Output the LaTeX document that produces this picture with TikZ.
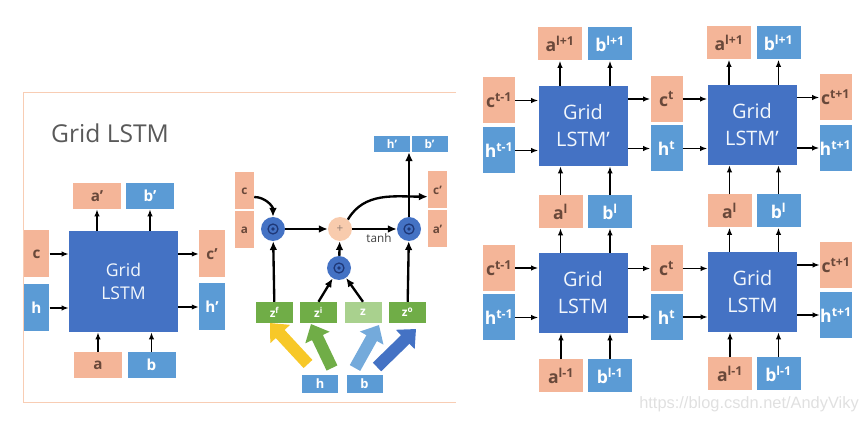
\documentclass[tikz,border=0pt]{standalone}
\usepackage{fontspec}
\setmainfont{Open Sans}
\newfontfamily\wmfont{Liberation Sans}
\usetikzlibrary{arrows.meta,positioning,calc}
\definecolor{orng}{RGB}{244,181,152}
\definecolor{lblue}{RGB}{91,155,213}
\definecolor{sqblue}{RGB}{68,114,196}
\definecolor{navy}{RGB}{31,56,120}
\definecolor{brwn}{RGB}{105,72,58}
\definecolor{zgrn}{RGB}{112,173,71}
\definecolor{zlgrn}{RGB}{169,209,142}
\definecolor{yel}{RGB}{247,200,40}
\definecolor{frame}{RGB}{248,205,180}
\definecolor{pls}{RGB}{248,203,173}
\tikzset{
    inbox/.style={
        rectangle,
        inner sep=0pt,
        font=\bfseries,
    },
    ora/.style={
        inbox,
        fill=orng,
        text=brwn,
    },
    blu/.style={
        inbox,
        fill=lblue,
        text=white,
    },
    cell/.style={
        rectangle,
        fill=sqblue,
        text=white!92!lblue,
        align=center,
    },
    lsq/.style={
        cell,
        minimum width=32.7mm,
        minimum height=30.3mm,
        font=\fontsize{15}{20}\selectfont,
    },
    rsq/.style={
        cell,
        minimum width=26.7mm,
        minimum height=24mm,
        font=\fontsize{17}{23}\selectfont,
    },
    lab/.style={
        minimum width=14.4mm,
        minimum height=7.8mm,
        font=\fontsize{13}{15}\selectfont\bfseries,
    },
    lch/.style={
        minimum width=7.7mm,
        minimum height=14.1mm,
        font=\fontsize{13}{15}\selectfont\bfseries,
    },
    rab/.style={
        minimum width=13.2mm,
        minimum height=9.9mm,
        font=\fontsize{15}{18}\selectfont\bfseries,
    },
    rch/.style={
        minimum width=9.6mm,
        minimum height=13.8mm,
        font=\fontsize{15}{18}\selectfont\bfseries,
    },
    mch/.style={
        minimum width=5.7mm,
        minimum height=11.1mm,
        font=\fontsize{10}{12}\selectfont\bfseries,
    },
    mhb/.style={
        minimum width=10.8mm,
        minimum height=4.8mm,
        font=\fontsize{10}{12}\selectfont\bfseries,
    },
    mhb2/.style={
        minimum width=10.8mm,
        minimum height=5.4mm,
        font=\fontsize{11}{12}\selectfont\bfseries,
    },
    zbox/.style={
        inbox,
        text=white,
        minimum width=11.1mm,
        minimum height=6.3mm,
        font=\fontsize{10}{12}\selectfont\bfseries,
    },
    gate/.style={
        circle,
        fill=sqblue,
        minimum size=7.2mm,
        inner sep=0pt,
        path picture={
            \draw[navy, line width=1.1pt] (path picture bounding box.center) circle (1.5mm);
            \fill[navy] (path picture bounding box.center) circle (0.55mm);
        },
    },
    plus/.style={
        circle,
        fill=pls,
        text=brwn!70,
        minimum size=7.2mm,
        inner sep=0pt,
        font=\fontsize{10}{10}\selectfont,
    },
    arr/.style={
        -{Latex[length=6pt,width=4.5pt]},
        line width=1.5pt,
    },
    marr/.style={
        -{Latex[length=7.5pt,width=6.5pt]},
        line width=2pt,
    },
    fat/.style={
        line width=3.6mm,
        -{Triangle[length=4.5mm,width=7.8mm]},
    },
    frm/.style={
        draw=frame,
        line width=0.8pt,
    },
}

\begin{document}
\begin{tikzpicture}[x=0.3mm,y=-0.3mm]
    \useasboundingbox (0,0) rectangle (865,421);

    % left panel: one Grid LSTM block
    \draw[frm] (456,92) -- (23,92) -- (23,402) -- (456,402);
    \node[anchor=west, text=black!65, font=\fontsize{21}{25}\selectfont] (title) at (47,133) {Grid LSTM};

    \node[lsq] (sq) at (123.5,281.5) {Grid\\LSTM};
    \node[ora, lab] (ao) at (97,196) {a’};
    \node[blu, lab] (bo) at (150,196) {b’};
    \node[ora, lch] (ci) at (36.5,254) {c};
    \node[blu, lch] (hi) at (36.5,308) {h};
    \node[ora, lch] (co) at (212,254) {c’};
    \node[blu, lch] (ho) at (212,307) {h’};
    \node[ora, lab] (ai) at (98,365) {a};
    \node[blu, lab] (bi) at (151.5,365) {b};

    \draw[arr] (ci) -- (ci -| sq.west);
    \draw[arr] (hi) -- (hi -| sq.west);
    \draw[arr] (sq.east |- co) -- (co);
    \draw[arr] (sq.east |- ho) -- (ho);
    \draw[arr] (ao |- sq.north) -- (ao);
    \draw[arr] (bo |- sq.north) -- (bo);
    \draw[arr] (ai) -- (ai |- sq.south);
    \draw[arr] (bi) -- (bi |- sq.south);

    % middle: inside the block
    \node[ora, mch] (mc) at (244.5,191) {c};
    \node[ora, mch] (ma) at (244.5,230) {a};
    \node[ora, mch] (mco) at (437.5,190) {c’};
    \node[ora, mch] (mao) at (437.5,229) {a’};
    \node[blu, mhb] (mho) at (392,144) {h’};
    \node[blu, mhb] (mbo) at (429.5,144) {b’};
    \node[gate] (gf) at (273,229) {};
    \node[plus] (sum) at (340,229) {+};
    \node[gate] (go) at (409,229) {};
    \node[gate] (gi) at (339,268) {};
    \node[zbox, fill=zgrn] (zf) at (274.5,312.5) {z\textsuperscript{f}};
    \node[zbox, fill=zgrn] (zi) at (318.5,312.5) {z\textsuperscript{i}};
    \node[zbox, fill=zlgrn] (zz) at (363,312.5) {z};
    \node[zbox, fill=zgrn] (zo) at (407.5,312.5) {z\textsuperscript{o}};
    \node[blu, mhb2] (mh) at (320,384) {h};
    \node[blu, mhb2] (mb) at (364.5,384) {b};

    \coordinate (yt) at (308,364);
    \coordinate (yh) at (270,323);
    \coordinate (gt) at (332,368);
    \coordinate (gh) at (311,324);
    \coordinate (lt) at (355,368);
    \coordinate (lh) at (379,325);
    \coordinate (dt) at (377,367);
    \coordinate (dh) at (416,329);
    \draw[fat, yel] (yt) -- (yh);
    \draw[fat, zgrn] (gt) -- (gh);
    \draw[fat, lblue!85] (lt) -- (lh);
    \draw[fat, sqblue] (dt) -- (dh);

    \draw[marr] ([yshift=-1.8mm]mc.east) to[out=0,in=90] (gf);
    \draw[marr] (gf) -- (sum);
    \draw[marr] (sum) -- node[below, pos=0.6, font=\fontsize{10}{12}\selectfont, text=black!75] (th) {tanh} (go);
    \draw[marr] (gi) -- (sum);
    \draw[marr] (zf) -- (gf);
    \draw[marr] (zi.north) -- (gi);
    \draw[marr] (zz.north) -- (gi);
    \draw[marr] (zo) -- (go);
    \draw[marr] (go) -- (go |- mho.south);
    \draw[marr] (sum.50) to[out=60,in=180] ([yshift=-2mm]mco.west);

    % right panel: 2x2 grid
    \node[rsq] (tl) at (583,126) {Grid\\LSTM’};
    \node[rsq] (tr) at (752,125) {Grid\\LSTM’};
    \node[rsq] (bl) at (583,293) {Grid\\LSTM};
    \node[rsq] (br) at (752.5,292) {Grid\\LSTM};

    \node[ora, rab] (a3l) at (560,44) {a\textsuperscript{l+1}};
    \node[blu, rab] (b3l) at (610,44) {b\textsuperscript{l+1}};
    \node[ora, rab] (a3r) at (729,43) {a\textsuperscript{l+1}};
    \node[blu, rab] (b3r) at (778.5,43) {b\textsuperscript{l+1}};
    \node[ora, rab] (a2l) at (560.5,211.5) {a\textsuperscript{l}};
    \node[blu, rab] (b2l) at (610,211.5) {b\textsuperscript{l}};
    \node[ora, rab] (a2r) at (729.5,211) {a\textsuperscript{l}};
    \node[blu, rab] (b2r) at (778.5,211) {b\textsuperscript{l}};
    \node[ora, rab] (a1l) at (561,376) {a\textsuperscript{l-1}};
    \node[blu, rab] (b1l) at (610,376) {b\textsuperscript{l-1}};
    \node[ora, rab] (a1r) at (730,374) {a\textsuperscript{l-1}};
    \node[blu, rab] (b1r) at (778.5,374) {b\textsuperscript{l-1}};

    \node[ora, rch] (c0t) at (499,100.5) {c\textsuperscript{t-1}};
    \node[blu, rch] (h0t) at (499,150.5) {h\textsuperscript{t-1}};
    \node[ora, rch] (c0b) at (499,268) {c\textsuperscript{t-1}};
    \node[blu, rch] (h0b) at (499,317.5) {h\textsuperscript{t-1}};
    \node[ora, rch] (c1t) at (666.5,99) {c\textsuperscript{t}};
    \node[blu, rch] (h1t) at (666.5,148.5) {h\textsuperscript{t}};
    \node[ora, rch] (c1b) at (666.5,268.5) {c\textsuperscript{t}};
    \node[blu, rch] (h1b) at (666.5,317) {h\textsuperscript{t}};
    \node[ora, rch] (c2t) at (835.5,97.5) {c\textsuperscript{t+1}};
    \node[blu, rch] (h2t) at (835.5,148) {h\textsuperscript{t+1}};
    \node[ora, rch] (c2b) at (836,265) {c\textsuperscript{t+1}};
    \node[blu, rch] (h2b) at (836,315) {h\textsuperscript{t+1}};

    \draw[arr] (c0t) -- (c0t -| tl.west);
    \draw[arr] (h0t) -- (h0t -| tl.west);
    \draw[arr] (tl.east |- c1t) -- (c1t);
    \draw[arr] (tl.east |- h1t) -- (h1t);
    \draw[arr] (c1t) -- (c1t -| tr.west);
    \draw[arr] (h1t) -- (h1t -| tr.west);
    \draw[arr] (tr.east |- c2t) -- (c2t);
    \draw[arr] (tr.east |- h2t) -- (h2t);
    \draw[arr] (c0b) -- (c0b -| bl.west);
    \draw[arr] (h0b) -- (h0b -| bl.west);
    \draw[arr] (bl.east |- c1b) -- (c1b);
    \draw[arr] (bl.east |- h1b) -- (h1b);
    \draw[arr] (c1b) -- (c1b -| br.west);
    \draw[arr] (h1b) -- (h1b -| br.west);
    \draw[arr] (br.east |- c2b) -- (c2b);
    \draw[arr] (br.east |- h2b) -- (h2b);

    \draw[arr] (a3l |- tl.north) -- (a3l);
    \draw[arr] (b3l |- tl.north) -- (b3l);
    \draw[arr] (a3r |- tr.north) -- (a3r);
    \draw[arr] (b3r |- tr.north) -- (b3r);
    \draw[arr] (a2l) -- (a2l |- tl.south);
    \draw[arr] (b2l) -- (b2l |- tl.south);
    \draw[arr] (a2r) -- (a2r |- tr.south);
    \draw[arr] (b2r) -- (b2r |- tr.south);
    \draw[arr] (a2l |- bl.north) -- (a2l);
    \draw[arr] (b2l |- bl.north) -- (b2l);
    \draw[arr] (a2r |- br.north) -- (a2r);
    \draw[arr] (b2r |- br.north) -- (b2r);
    \draw[arr] (a1l) -- (a1l |- bl.south);
    \draw[arr] (b1l) -- (b1l |- bl.south);
    \draw[arr] (a1r) -- (a1r |- br.south);
    \draw[arr] (b1r) -- (b1r |- br.south);

    \node[text=black!12, font=\wmfont\fontsize{14}{16}\selectfont] (wm) at (749,404) {https://blog.csdn.net/AndyViky};
\end{tikzpicture}
\end{document}
